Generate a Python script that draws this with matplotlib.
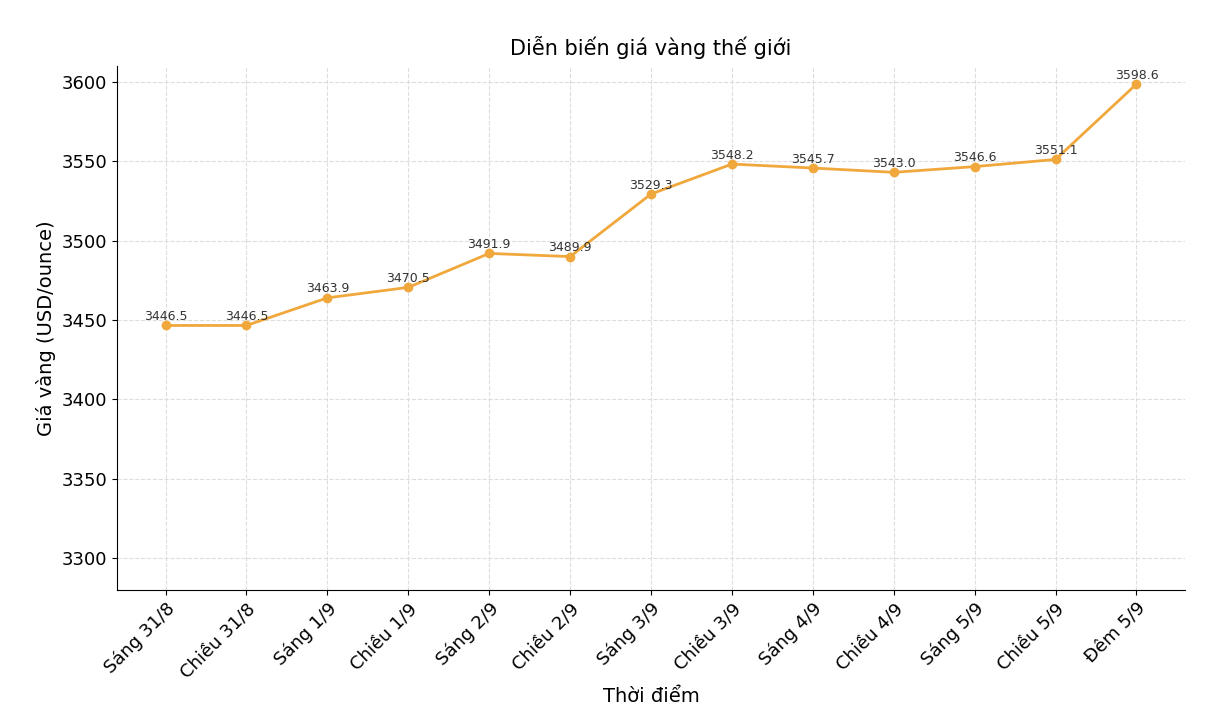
import matplotlib
matplotlib.use("Agg")
import matplotlib.pyplot as plt

labels = ["Sáng 31/8", "Chiều 31/8", "Sáng 1/9", "Chiều 1/9", "Sáng 2/9", "Chiều 2/9",
          "Sáng 3/9", "Chiều 3/9", "Sáng 4/9", "Chiều 4/9", "Sáng 5/9", "Chiều 5/9", "Đêm 5/9"]
prices = [3446.5, 3446.5, 3463.9, 3470.5, 3491.9, 3489.9, 3529.3, 3548.2,
          3545.7, 3543.0, 3546.6, 3551.1, 3598.6]
yticks = [3300, 3350, 3400, 3450, 3500, 3550, 3600]

fig = plt.figure(figsize=(12.1, 7.26), dpi=100)
ax = fig.add_axes([117/1210, 1-590/726, (1185-117)/1210, (590-66)/726])
x = list(range(len(labels)))
ax.plot(x, prices, color="#F0A83C", marker="o", markersize=6, linewidth=2)
for xi, v in zip(x, prices):
    ax.text(xi, v + 1.5, f"{v:.1f}", ha="center", va="bottom", fontsize=9, color="#333333")
ax.set_xlim(-0.6, 12.6)
ax.set_ylim(3279.8, 3610)
ax.set_yticks(yticks)
ax.set_xticks(x)
ax.set_xticklabels(labels, rotation=45, ha="right", rotation_mode="anchor", fontsize=13)
ax.tick_params(axis="y", labelsize=13)
ax.grid(True, linestyle="--", color="#dddddd", linewidth=0.8)
ax.spines["top"].set_visible(False)
ax.spines["right"].set_visible(False)
ax.set_title("Diễn biến giá vàng thế giới", fontsize=15, pad=8)
ax.set_xlabel("Thời điểm", fontsize=14)
ax.set_ylabel("Giá vàng (USD/ounce)", fontsize=14)
fig.savefig("out.png", dpi=100)
